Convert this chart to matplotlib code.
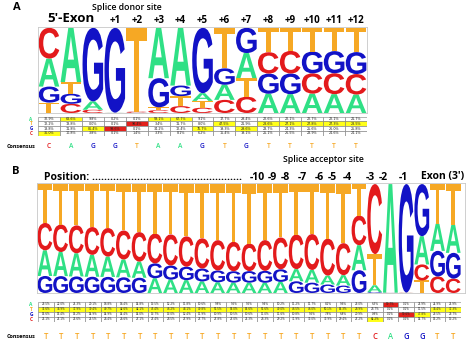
import matplotlib
matplotlib.use("Agg")
import matplotlib.pyplot as plt
import matplotlib.transforms as mtransforms
from matplotlib.font_manager import FontProperties
from matplotlib.patches import PathPatch, Rectangle
from matplotlib.textpath import TextPath

BASES = ["A", "T", "G", "C"]

# Panel A - splice donor site, % of each base per position
DONOR_LABELS = ["5'-Exon", "+1", "+2", "+3", "+4", "+5", "+6",
                "+7", "+8", "+9", "+10", "+11", "+12"]
DONOR_A = [32.9, 63.6, 9.8, 0.2, 0.1, 59.1, 67.7, 9.1, 17.7, 29.4, 22.6, 22.1, 22.7, 22.1, 21.7]
DONOR_T = [12.2, 13.8, 0.0, 0.1, 98.4, 3.4, 11.7, 8.0, 47.5, 21.9, 28.6, 27.1, 27.8, 27.3, 28.5]
DONOR_G = [18.8, 11.8, 86.4, 99.6, 0.1, 34.2, 12.4, 76.7, 19.3, 29.6, 23.7, 24.3, 25.6, 26.0, 25.8]
DONOR_C = [36.0, 10.8, 3.8, 0.1, 1.4, 3.3, 8.1, 6.2, 15.4, 19.1, 25.1, 26.5, 23.9, 24.6, 24.1]

# Panel B - splice acceptor site
ACC_LABELS = ["-10", "-9", "-8", "-7", "-6", "-5", "-4", "-3", "-2", "-1", "Exon (3')"]
ACC_A = [23.5, 22.0, 21.3, 20.1, 18.8, 16.4, 14.8, 13.5, 12.2, 11.8, 10.6, 9.8, 9.5, 9.5,
         9.4, 10.2, 11.2, 11.7, 8.2, 9.6, 23.0, 6.3, 99.7, 0.1, 25.9, 24.9, 25.9]
ACC_T = [35.6, 36.9, 37.9, 39.4, 40.7, 42.6, 44.1, 45.4, 46.2, 48.1, 49.8, 51.5, 53.0, 54.6,
         51.6, 49.0, 46.5, 46.0, 50.1, 54.3, 28.9, 28.7, 0.1, 0.1, 11.5, 36.4, 37.3]
ACC_G = [15.6, 15.4, 15.2, 14.9, 14.9, 14.4, 14.0, 13.7, 13.0, 12.4, 11.9, 10.9, 10.5, 10.6,
         11.0, 11.6, 10.8, 9.5, 7.8, 6.8, 20.9, 0.8, 0.1, 99.6, 47.8, 23.5, 23.7]
ACC_C = [25.1, 25.1, 25.6, 25.5, 26.4, 26.6, 27.1, 27.4, 28.5, 27.9, 27.7, 27.8, 27.0, 25.3,
         28.3, 29.2, 31.9, 33.0, 33.9, 29.4, 27.2, 64.2, 0.1, 0.2, 14.7, 15.2, 13.2]

W, H = 474, 346
COLORS = {"A": "#2fe085", "T": "#f6a824", "G": "#1212c6", "C": "#e31a1c"}
LOGO_FONT = FontProperties(family="Liberation Sans", weight="bold")
HEAD = "Open Sans"


def px_box(l, t, r, b):
    return [l / W, 1 - b / H, (r - l) / W, (b - t) / H]


def fig_text(fig, x, y, s, **kw):
    fig.text(x / W, 1 - y / H, s, **kw)


def letter(ax, ch, x0, y0, w, h):
    if h <= 0:
        return
    tp = TextPath((0, 0), ch, size=1, prop=LOGO_FONT)
    bb = tp.get_extents()
    tr = (mtransforms.Affine2D().translate(-bb.x0, -bb.y0)
          .scale(w / bb.width, h / bb.height).translate(x0, y0))
    ax.add_patch(PathPatch(tr.transform_path(tp), fc=COLORS[ch], ec="none", lw=0))


def draw_logo(ax, freqs, xmax):
    n = len(freqs["A"])
    for i in range(n):
        total = sum(freqs[b][i] for b in BASES)
        y = 0.0
        for v, b in sorted((freqs[b][i], b) for b in BASES):
            h = v / total
            letter(ax, b, i - 0.47, y, 0.94, h)
            y += h
    ax.set_xlim(-0.5, xmax)
    ax.set_ylim(0, 1.01)
    ax.set_xticks([])
    ax.set_yticks([])
    for s in ax.spines.values():
        s.set_color("#c8c8c8")
        s.set_linewidth(0.6)


def draw_table(fig, ax, freqs, fs, cons_y, row_fs, letter_fs):
    n = len(freqs["A"])
    for i in range(n):
        top = max(freqs[b][i] for b in BASES)
        for r, b in enumerate(BASES):
            v = freqs[b][i]
            fc = "white"
            if v == top:
                fc = "#e3211c" if v > 90 else "#ffff1a"
            ax.add_patch(Rectangle((i - 0.5, r), 1, 1, fc=fc, ec="#7a7a7a", lw=0.4))
            ax.text(i, r + 0.52, f"{v:.1f}%", ha="center", va="center",
                    fontsize=fs, color="#222222")
    ax.set_xlim(-0.5, n - 0.5)
    ax.set_ylim(4, 0)
    ax.axis("off")
    row_tr = mtransforms.blended_transform_factory(fig.transFigure, ax.transData)
    for r, b in enumerate(BASES):
        ax.text(31 / W, r + 0.55, b, transform=row_tr, ha="center", va="center",
                fontsize=row_fs, fontweight="bold", color=COLORS[b], family=HEAD)
    col_tr = mtransforms.blended_transform_factory(ax.transData, fig.transFigure)
    for i in range(n):
        best = max(BASES, key=lambda b: freqs[b][i])
        ax.text(i, 1 - cons_y / H, best, transform=col_tr, ha="center", va="center",
                fontsize=letter_fs, fontweight="semibold", color=COLORS[best], family=HEAD)


fig = plt.figure(figsize=(W / 100, H / 100), dpi=100)
fig.patch.set_facecolor("white")

donor = {"A": DONOR_A, "T": DONOR_T, "G": DONOR_G, "C": DONOR_C}
acc = {"A": ACC_A, "T": ACC_T, "G": ACC_G, "C": ACC_C}

# ---- panel A
fig_text(fig, 17, 8, "A", fontsize=8, fontweight="bold", ha="center", va="center", family=HEAD)
fig_text(fig, 127, 7, "Splice donor site", fontsize=6.3, fontweight="semibold",
         ha="center", va="center", family=HEAD)
ax_la = fig.add_axes(px_box(38, 27, 367, 113))
draw_logo(ax_la, donor, len(DONOR_A) - 0.5)
lab_tr = mtransforms.blended_transform_factory(ax_la.transData, fig.transFigure)
donor_label_cols = [1] + list(range(3, 15))
for lab, c in zip(DONOR_LABELS, donor_label_cols):
    big = lab.startswith("5")
    ax_la.text(c, 1 - (18.5 if big else 20.5) / H, lab, transform=lab_tr,
               ha="center", va="center", fontsize=9.5 if big else 7,
               fontweight="bold", family=HEAD)
ax_ta = fig.add_axes(px_box(38, 116.7, 367, 135.5))
draw_table(fig, ax_ta, donor, 2.4, 146.5, 3.3, 4.8)
fig_text(fig, 7, 146.5, "Consensus", fontsize=4, fontweight="bold", ha="left",
         va="center", family=HEAD)

# ---- panel B
fig_text(fig, 16, 172, "B", fontsize=8, fontweight="bold", ha="center", va="center", family=HEAD)
fig_text(fig, 323, 159, "Splice acceptor site", fontsize=6.3, fontweight="semibold",
         ha="center", va="center", family=HEAD)
fig_text(fig, 44, 177, "Position: " + "." * 50, fontsize=7.5, fontweight="bold",
         ha="left", va="center", family=HEAD)
acc_label_x = [257, 272, 285, 302, 319, 332, 347, 370, 383, 403, 443]
for lab, x in zip(ACC_LABELS, acc_label_x):
    fig_text(fig, x, 177, lab, fontsize=7.5, fontweight="bold", ha="center",
             va="center", family=HEAD)
ax_lb = fig.add_axes(px_box(37, 183, 465, 293))
draw_logo(ax_lb, acc, 26.75)
ax_tb = fig.add_axes(px_box(38, 301.7, 461, 321.5))
draw_table(fig, ax_tb, acc, 2.0, 336.7, 3.5, 5.5)
fig_text(fig, 7, 336.7, "Consensus", fontsize=4, fontweight="bold", ha="left",
         va="center", family=HEAD)

fig.savefig("out.png", dpi=100)
